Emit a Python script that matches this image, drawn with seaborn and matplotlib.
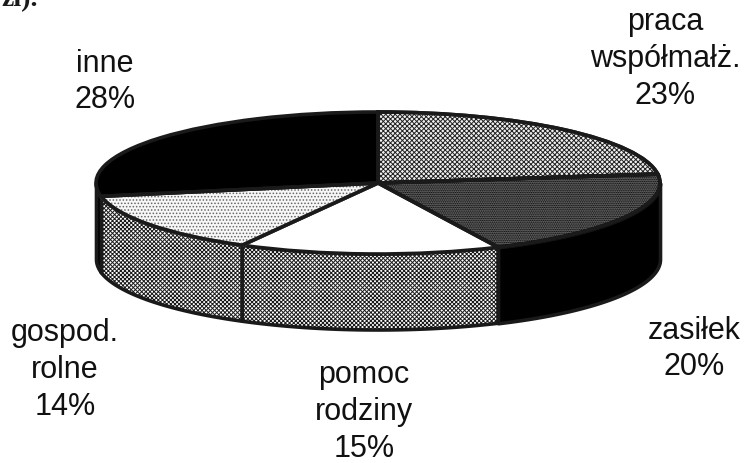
import numpy as np
import matplotlib
matplotlib.use('Agg')
import matplotlib.pyplot as plt
from matplotlib.patches import Wedge
import seaborn as sns

labels = ['praca\nwspółmałż.\n23%', 'zasiłek\n20%', 'pomoc\nrodziny\n15%', 'gospod.\nrolne\n14%', 'inne\n28%']
shares = [23, 20, 15, 14, 28]

sns.set_theme(style='white')
plt.rcParams['font.family'] = ['Liberation Sans', 'DejaVu Sans']
plt.rcParams['hatch.linewidth'] = 0.7

W, H = 747, 463
cx, cy = 378, 183   # centre of the top ellipse, px
rx, ry = 282, 71
depth = 76 / ry

top_colors = ['#f0f0f0', '#666666', '#ffffff', '#f7f7f7', '#000000']
top_hatch = ['xxxxxxx', '.........', None, '.....', None]
top_hatch_col = ['#222222', '#000000', 'k', '#666666', 'k']
side_colors = ['#000000', '#000000', '#ffffff', '#ffffff', '#000000']
side_hatch = [None, None, 'xxxxxxxx', 'xxxxxxxx', None]

fig, ax = plt.subplots(figsize=(W / 100, H / 100), dpi=100)
fig.subplots_adjust(0, 0, 1, 1)

# side wall first, only the front half of the cake
ends = 90 - np.cumsum(shares) * 3.6
starts = np.r_[90, ends[:-1]]
for a0, a1, fc, h in zip(starts, ends, side_colors, side_hatch):
    a0, a1 = min(a0, 0), max(a1, -180)
    if a0 <= a1:
        continue
    t = np.radians(np.linspace(a0, a1, 80))
    ax.fill_between(np.cos(t), np.sin(t), np.sin(t) - depth, facecolor=fc, hatch=h,
                    edgecolor='k', linewidth=2.6, zorder=1)

wedges, _ = ax.pie(shares, startangle=90, counterclock=False, colors=top_colors,
                   wedgeprops=dict(edgecolor='k', linewidth=2.6, zorder=2))
for w, h, c in zip(wedges, top_hatch, top_hatch_col):
    if h:
        w.set_hatch(h)
        w.set_edgecolor(c)
        # outline again on top, hatch takes the edge colour
        ax.add_patch(Wedge(w.center, w.r, w.theta1, w.theta2, fill=False,
                           edgecolor='k', linewidth=2.6, zorder=3))

ax.set_aspect('auto')
ax.set_xlim(-cx / rx, (W - cx) / rx)
ax.set_ylim(-(H - cy) / ry, cy / ry)
sns.despine(ax=ax, left=True, bottom=True)

label_pos = [(665, 59), (694, 349), (364, 412), (65, 370), (105, 82)]
for txt, (x, y) in zip(labels, label_pos):
    fig.text(x / W, 1 - y / H, txt, ha='center', va='center', fontsize=22,
             linespacing=1.3, color='#111111')

fig.text(1 / W, 1 - 6 / H, 'zi).', ha='left', va='baseline', fontsize=20,
         fontweight='bold', family=['Liberation Serif'], color='k')

fig.savefig('out.png', dpi=100)
